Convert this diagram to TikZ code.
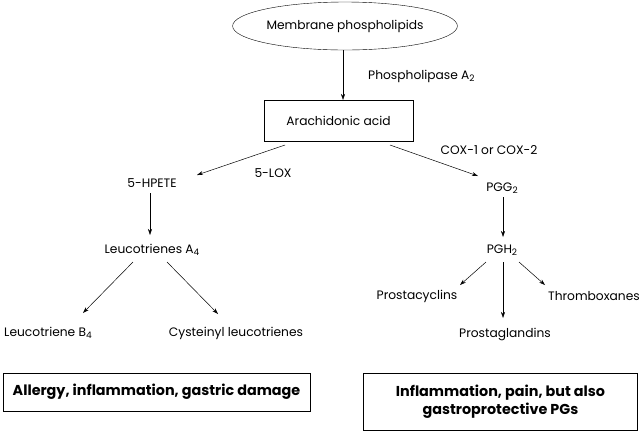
\documentclass[tikz,border=0pt]{standalone}
\usepackage{fontspec}
\setmainfont{Poppins}
\usetikzlibrary{shapes.geometric,arrows.meta}
\newcommand{\lowsub}[1]{\raisebox{-0.3ex}{\fontsize{9}{10}\selectfont #1}}
\begin{document}
\begin{tikzpicture}[x=1bp,y=-1bp,
  lbl/.style={inner sep=1pt,font=\fontsize{12.3}{14}\selectfont},
  arr/.style={-{Stealth[length=6bp,width=4bp]},line width=0.5pt},
  resbox/.style={draw,line width=0.8pt,font=\bfseries\fontsize{14.4}{18}\selectfont,align=center}]
\useasboundingbox (0,0) rectangle (640,431);
\node[draw,ellipse,lbl,minimum width=215bp,minimum height=48bp] (mem) at (345,26) {Membrane phospholipids};
\node[draw,lbl,minimum width=149bp,minimum height=41bp] (aa) at (338.5,120.5) {Arachidonic acid};
\node[lbl] (hpete) at (152,183) {5-HPETE};
\node[lbl] (lta) at (152,250) {Leucotrienes A\lowsub{4}};
\node[lbl] (ltb) at (48,333) {Leucotriene B\lowsub{4}};
\node[lbl] (cys) at (236,333) {Cysteinyl leucotrienes};
\node[lbl] (pgg) at (502,188) {PGG\lowsub{2}};
\node[lbl] (pgh) at (502,250) {PGH\lowsub{2}};
\node[lbl] (pci) at (417,296) {Prostacyclins};
\node[lbl] (tbx) at (594,296) {Thromboxanes};
\node[lbl] (pgl) at (505,334) {Prostaglandins};
\node[lbl,anchor=west] (pla) at (367,76) {Phospholipase A\lowsub{2}};
\node[lbl] (lox) at (273,173) {5-LOX};
\node[lbl] (cox) at (489,150) {COX-1 or COX-2};
\node[resbox,minimum width=307bp,minimum height=38bp] (r1) at (156.5,392) {Allergy, inflammation, gastric damage};
\node[resbox,minimum width=274bp,minimum height=57bp] (r2) at (500.5,401.5) {Inflammation, pain, but also\\gastroprotective PGs};
\coordinate (c1) at (343,100);
\draw[arr] (mem.south -| c1) -- (c1);
\coordinate (a1) at (285,145); \coordinate (a2) at (197,175);
\coordinate (b1) at (390,145); \coordinate (b2) at (478,176);
\draw[arr] (a1) -- (a2);
\draw[arr] (b1) -- (b2);
\coordinate (h1) at (150,193); \coordinate (h2) at (150,235);
\draw[arr] (h1) -- (h2);
\coordinate (l1) at (133,262); \coordinate (l2) at (83,313);
\coordinate (l3) at (167,262); \coordinate (l4) at (218,314);
\draw[arr] (l1) -- (l2);
\draw[arr] (l3) -- (l4);
\coordinate (g1) at (503,197); \coordinate (g2) at (503,237);
\draw[arr] (g1) -- (g2);
\coordinate (p1) at (486,262); \coordinate (p2) at (460,285);
\coordinate (p3) at (503,262); \coordinate (p4) at (503,318);
\coordinate (p5) at (519,262); \coordinate (p6) at (545,285);
\draw[arr] (p1) -- (p2);
\draw[arr] (p3) -- (p4);
\draw[arr] (p5) -- (p6);
\end{tikzpicture}
\end{document}
